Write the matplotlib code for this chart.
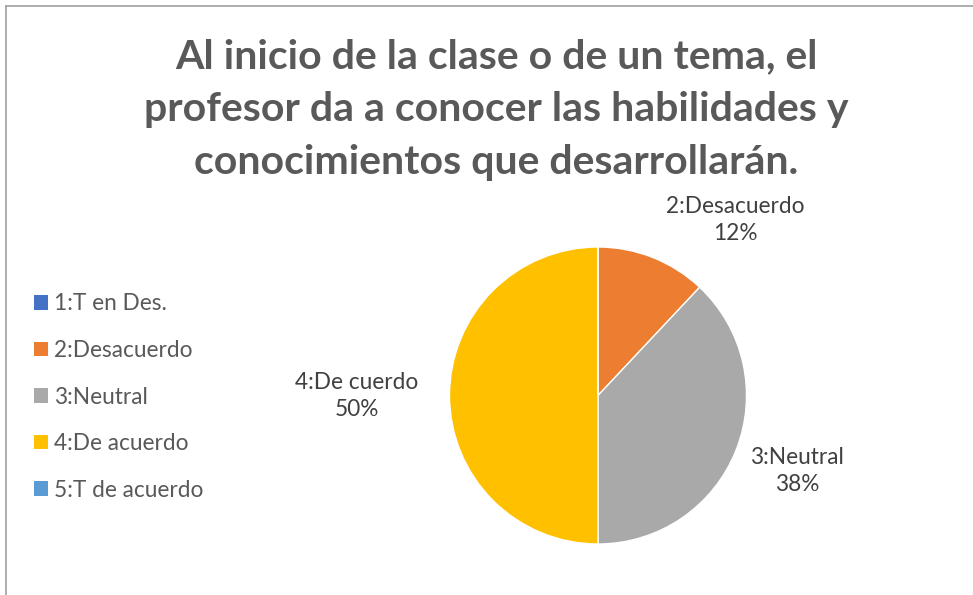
import matplotlib.pyplot as plt
from matplotlib.lines import Line2D
from matplotlib.patches import Patch

# survey answers, share of responses (%)
categories = ['1:T en Des.', '2:Desacuerdo', '3:Neutral', '4:De acuerdo', '5:T de acuerdo']
point_labels = ['', '2:Desacuerdo', '3:Neutral', '4:De cuerdo', '']
values = [0, 12, 38, 50, 0]
colors = ['#4472C4', '#ED7D31', '#A9A9A9', '#FFC000', '#5B9BD5']

title = ('Al inicio de la clase o de un tema, el\n'
         'profesor da a conocer las habilidades y\n'
         'conocimientos que desarrollarán.')

FONT = ['Lato', 'DejaVu Sans']
plt.rcParams['font.family'] = FONT

W, H = 973, 595
fig = plt.figure(figsize=(W / 100, H / 100), dpi=100)

# chart border (only top and left visible in the crop)
fig.add_artist(Line2D([5.5 / W, 5.5 / W], [0, 1 - 5.5 / H], color='#A0A0A0', lw=1.2))
fig.add_artist(Line2D([5.5 / W, 1], [1 - 5.5 / H, 1 - 5.5 / H], color='#A0A0A0', lw=1.2))

fig.text(496 / W, 1 - 110 / H, title, ha='center', va='center',
         fontsize=29.5, fontweight='bold', color='#595959', linespacing=1.53)

cx, cy, r = 598, 395.5, 148.5
ax = fig.add_axes([(cx - r) / W, (H - cy - r) / H, 2 * r / W, 2 * r / H])
wedges, _ = ax.pie(values, colors=colors, startangle=90, counterclock=False,
                   wedgeprops=dict(edgecolor='white', linewidth=1))
ax.set_xlim(-1, 1)
ax.set_ylim(-1, 1)
ax.set_aspect('auto')
ax.axis('off')

# data labels, offset from the pie centre (in radii)
label_pos = {1: (0.923, 1.182), 2: (1.340, -0.508), 3: (-1.623, -0.005)}
for i, (dx, dy) in label_pos.items():
    ax.text(dx, dy, f'{point_labels[i]}\n{values[i]}%', ha='center', va='center',
            fontsize=16.3, color='#404040', linespacing=1.35, clip_on=False)

handles = [Patch(facecolor=c, edgecolor='none') for c in colors]
leg = fig.legend(handles, categories, loc='center left',
                 bbox_to_anchor=(14 / W, 1 - 397 / H), frameon=False,
                 fontsize=16.3, handlelength=0.6, handleheight=0.6,
                 handletextpad=0.27, labelspacing=1.13)
for t in leg.get_texts():
    t.set_color('#595959')

fig.savefig('out.png', dpi=100, facecolor='white')
